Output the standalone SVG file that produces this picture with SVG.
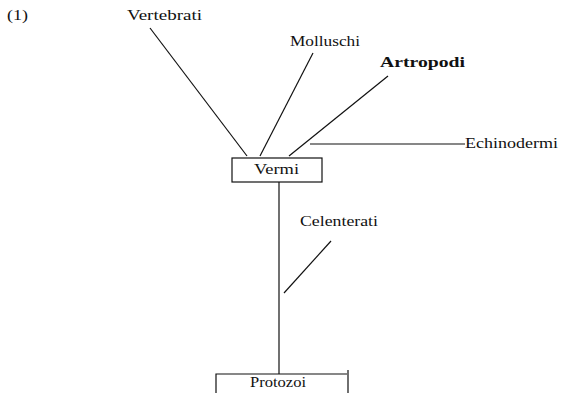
<svg xmlns="http://www.w3.org/2000/svg" width="561" height="393" viewBox="0 0 561 393">
<style>
text{font-family:"Liberation Serif","DejaVu Serif",serif;font-size:14.5px;fill:#111}
.b{font-weight:bold}
.s{stroke:#111;stroke-width:1.2;fill:none}
</style>
<rect width="561" height="393" fill="#fff"/>
<text x="7" y="20" textLength="21" lengthAdjust="spacingAndGlyphs">(1)</text>
<g id="connectors" class="s">
<line x1="150" y1="28" x2="247" y2="156"/>
<line x1="313" y1="53" x2="260" y2="156"/>
<line x1="388" y1="76" x2="289" y2="156"/>
<line x1="310" y1="144" x2="465" y2="144"/>
<line x1="279" y1="182" x2="279" y2="374"/>
<line x1="331" y1="241" x2="284" y2="293"/>
</g>
<g id="vertebrati"><text x="127" y="20" textLength="75" lengthAdjust="spacingAndGlyphs">Vertebrati</text></g>
<g id="molluschi"><text x="290" y="46" textLength="70" lengthAdjust="spacingAndGlyphs">Molluschi</text></g>
<g id="artropodi"><text class="b" x="380" y="67" textLength="85" lengthAdjust="spacingAndGlyphs">Artropodi</text></g>
<g id="echinodermi"><text x="465" y="148" textLength="93" lengthAdjust="spacingAndGlyphs">Echinodermi</text></g>
<g id="vermi"><rect class="s" x="232" y="158" width="90" height="24"/><text x="254" y="174" textLength="45" lengthAdjust="spacingAndGlyphs">Vermi</text></g>
<g id="celenterati"><text x="300" y="226" textLength="78" lengthAdjust="spacingAndGlyphs">Celenterati</text></g>
<g id="protozoi"><path class="s" d="M216 393V374H347M348 370V393"/><text x="250" y="387" textLength="56" lengthAdjust="spacingAndGlyphs">Protozoi</text></g>
</svg>
